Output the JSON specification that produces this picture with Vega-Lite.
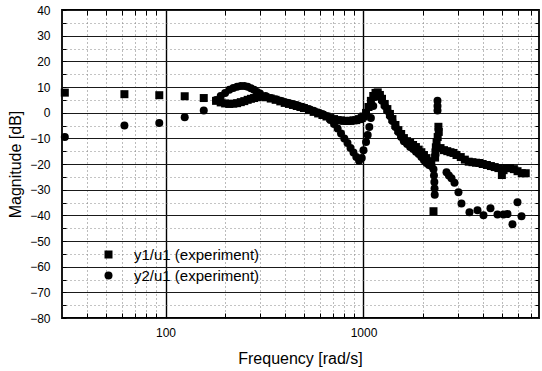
{
  "$schema": "https://vega.github.io/schema/vega-lite/v6.json",
  "width": 477,
  "height": 308,
  "autosize": "none",
  "padding": {"left": 62, "top": 10, "right": 3, "bottom": 53},
  "background": "white",
  "config": {"view": {"stroke": "black", "strokeWidth": 1.8}, "font": "Liberation Sans"},
  "data": {"values": [
    {"f": 31, "db": 7.8, "s": "y1/u1 (experiment)"},
    {"f": 62, "db": 7.2, "s": "y1/u1 (experiment)"},
    {"f": 93, "db": 6.8, "s": "y1/u1 (experiment)"},
    {"f": 125, "db": 6.4, "s": "y1/u1 (experiment)"},
    {"f": 156, "db": 5.7, "s": "y1/u1 (experiment)"},
    {"f": 180, "db": 4.6, "s": "y1/u1 (experiment)"},
    {"f": 190, "db": 4.0, "s": "y1/u1 (experiment)"},
    {"f": 200, "db": 3.6, "s": "y1/u1 (experiment)"},
    {"f": 210, "db": 3.4, "s": "y1/u1 (experiment)"},
    {"f": 220, "db": 3.5, "s": "y1/u1 (experiment)"},
    {"f": 230, "db": 3.7, "s": "y1/u1 (experiment)"},
    {"f": 240, "db": 4.1, "s": "y1/u1 (experiment)"},
    {"f": 250, "db": 4.5, "s": "y1/u1 (experiment)"},
    {"f": 260, "db": 5.0, "s": "y1/u1 (experiment)"},
    {"f": 270, "db": 5.4, "s": "y1/u1 (experiment)"},
    {"f": 280, "db": 5.7, "s": "y1/u1 (experiment)"},
    {"f": 290, "db": 6.0, "s": "y1/u1 (experiment)"},
    {"f": 300, "db": 6.2, "s": "y1/u1 (experiment)"},
    {"f": 320, "db": 6.0, "s": "y1/u1 (experiment)"},
    {"f": 340, "db": 5.5, "s": "y1/u1 (experiment)"},
    {"f": 360, "db": 5.0, "s": "y1/u1 (experiment)"},
    {"f": 380, "db": 4.4, "s": "y1/u1 (experiment)"},
    {"f": 400, "db": 3.8, "s": "y1/u1 (experiment)"},
    {"f": 420, "db": 3.4, "s": "y1/u1 (experiment)"},
    {"f": 440, "db": 3.0, "s": "y1/u1 (experiment)"},
    {"f": 460, "db": 2.6, "s": "y1/u1 (experiment)"},
    {"f": 480, "db": 2.2, "s": "y1/u1 (experiment)"},
    {"f": 500, "db": 1.8, "s": "y1/u1 (experiment)"},
    {"f": 530, "db": 1.0, "s": "y1/u1 (experiment)"},
    {"f": 560, "db": 0.3, "s": "y1/u1 (experiment)"},
    {"f": 590, "db": -0.3, "s": "y1/u1 (experiment)"},
    {"f": 620, "db": -0.9, "s": "y1/u1 (experiment)"},
    {"f": 650, "db": -1.5, "s": "y1/u1 (experiment)"},
    {"f": 680, "db": -2.1, "s": "y1/u1 (experiment)"},
    {"f": 710, "db": -2.5, "s": "y1/u1 (experiment)"},
    {"f": 740, "db": -2.9, "s": "y1/u1 (experiment)"},
    {"f": 770, "db": -3.0, "s": "y1/u1 (experiment)"},
    {"f": 800, "db": -3.2, "s": "y1/u1 (experiment)"},
    {"f": 830, "db": -3.2, "s": "y1/u1 (experiment)"},
    {"f": 860, "db": -3.2, "s": "y1/u1 (experiment)"},
    {"f": 890, "db": -3.0, "s": "y1/u1 (experiment)"},
    {"f": 920, "db": -2.9, "s": "y1/u1 (experiment)"},
    {"f": 950, "db": -2.5, "s": "y1/u1 (experiment)"},
    {"f": 980, "db": -2.1, "s": "y1/u1 (experiment)"},
    {"f": 1000, "db": -1.5, "s": "y1/u1 (experiment)"},
    {"f": 1030, "db": -0.1, "s": "y1/u1 (experiment)"},
    {"f": 1060, "db": 2.2, "s": "y1/u1 (experiment)"},
    {"f": 1090, "db": 4.6, "s": "y1/u1 (experiment)"},
    {"f": 1120, "db": 6.5, "s": "y1/u1 (experiment)"},
    {"f": 1150, "db": 7.7, "s": "y1/u1 (experiment)"},
    {"f": 1180, "db": 7.9, "s": "y1/u1 (experiment)"},
    {"f": 1210, "db": 6.9, "s": "y1/u1 (experiment)"},
    {"f": 1240, "db": 5.4, "s": "y1/u1 (experiment)"},
    {"f": 1280, "db": 3.4, "s": "y1/u1 (experiment)"},
    {"f": 1320, "db": 1.4, "s": "y1/u1 (experiment)"},
    {"f": 1360, "db": -0.5, "s": "y1/u1 (experiment)"},
    {"f": 1400, "db": -2.5, "s": "y1/u1 (experiment)"},
    {"f": 1450, "db": -4.8, "s": "y1/u1 (experiment)"},
    {"f": 1500, "db": -6.8, "s": "y1/u1 (experiment)"},
    {"f": 1550, "db": -8.3, "s": "y1/u1 (experiment)"},
    {"f": 1600, "db": -9.9, "s": "y1/u1 (experiment)"},
    {"f": 1660, "db": -11.1, "s": "y1/u1 (experiment)"},
    {"f": 1720, "db": -11.8, "s": "y1/u1 (experiment)"},
    {"f": 1780, "db": -12.6, "s": "y1/u1 (experiment)"},
    {"f": 1840, "db": -13.4, "s": "y1/u1 (experiment)"},
    {"f": 1900, "db": -14.4, "s": "y1/u1 (experiment)"},
    {"f": 1960, "db": -15.4, "s": "y1/u1 (experiment)"},
    {"f": 2020, "db": -16.5, "s": "y1/u1 (experiment)"},
    {"f": 2080, "db": -17.7, "s": "y1/u1 (experiment)"},
    {"f": 2140, "db": -18.9, "s": "y1/u1 (experiment)"},
    {"f": 2200, "db": -20.0, "s": "y1/u1 (experiment)"},
    {"f": 2257, "db": -38.4, "s": "y1/u1 (experiment)"},
    {"f": 2300, "db": -17.5, "s": "y1/u1 (experiment)"},
    {"f": 2310, "db": -15.5, "s": "y1/u1 (experiment)"},
    {"f": 2320, "db": -13.5, "s": "y1/u1 (experiment)"},
    {"f": 2340, "db": -11.5, "s": "y1/u1 (experiment)"},
    {"f": 2370, "db": -9.5, "s": "y1/u1 (experiment)"},
    {"f": 2400, "db": -7.5, "s": "y1/u1 (experiment)"},
    {"f": 2390, "db": -5.5, "s": "y1/u1 (experiment)"},
    {"f": 2450, "db": -13.8, "s": "y1/u1 (experiment)"},
    {"f": 2550, "db": -14.6, "s": "y1/u1 (experiment)"},
    {"f": 2650, "db": -15.0, "s": "y1/u1 (experiment)"},
    {"f": 2750, "db": -15.4, "s": "y1/u1 (experiment)"},
    {"f": 2850, "db": -15.7, "s": "y1/u1 (experiment)"},
    {"f": 2950, "db": -16.5, "s": "y1/u1 (experiment)"},
    {"f": 3100, "db": -17.3, "s": "y1/u1 (experiment)"},
    {"f": 3250, "db": -18.3, "s": "y1/u1 (experiment)"},
    {"f": 3400, "db": -19.1, "s": "y1/u1 (experiment)"},
    {"f": 3550, "db": -19.3, "s": "y1/u1 (experiment)"},
    {"f": 3700, "db": -19.5, "s": "y1/u1 (experiment)"},
    {"f": 3850, "db": -19.6, "s": "y1/u1 (experiment)"},
    {"f": 4000, "db": -20.0, "s": "y1/u1 (experiment)"},
    {"f": 4200, "db": -20.4, "s": "y1/u1 (experiment)"},
    {"f": 4400, "db": -20.8, "s": "y1/u1 (experiment)"},
    {"f": 4600, "db": -21.2, "s": "y1/u1 (experiment)"},
    {"f": 4800, "db": -21.6, "s": "y1/u1 (experiment)"},
    {"f": 5000, "db": -24.3, "s": "y1/u1 (experiment)"},
    {"f": 5100, "db": -22.4, "s": "y1/u1 (experiment)"},
    {"f": 5250, "db": -21.6, "s": "y1/u1 (experiment)"},
    {"f": 5500, "db": -21.6, "s": "y1/u1 (experiment)"},
    {"f": 5750, "db": -22.0, "s": "y1/u1 (experiment)"},
    {"f": 6000, "db": -22.8, "s": "y1/u1 (experiment)"},
    {"f": 6300, "db": -23.6, "s": "y1/u1 (experiment)"},
    {"f": 6600, "db": -23.6, "s": "y1/u1 (experiment)"},
    {"f": 31, "db": -9.5, "s": "y2/u1 (experiment)"},
    {"f": 62, "db": -5.0, "s": "y2/u1 (experiment)"},
    {"f": 93, "db": -4.0, "s": "y2/u1 (experiment)"},
    {"f": 125, "db": -1.8, "s": "y2/u1 (experiment)"},
    {"f": 156, "db": 0.8, "s": "y2/u1 (experiment)"},
    {"f": 180, "db": 4.9, "s": "y2/u1 (experiment)"},
    {"f": 190, "db": 6.5, "s": "y2/u1 (experiment)"},
    {"f": 200, "db": 7.7, "s": "y2/u1 (experiment)"},
    {"f": 210, "db": 8.9, "s": "y2/u1 (experiment)"},
    {"f": 220, "db": 9.6, "s": "y2/u1 (experiment)"},
    {"f": 230, "db": 10.1, "s": "y2/u1 (experiment)"},
    {"f": 240, "db": 10.4, "s": "y2/u1 (experiment)"},
    {"f": 250, "db": 10.4, "s": "y2/u1 (experiment)"},
    {"f": 260, "db": 10.1, "s": "y2/u1 (experiment)"},
    {"f": 270, "db": 9.5, "s": "y2/u1 (experiment)"},
    {"f": 280, "db": 8.9, "s": "y2/u1 (experiment)"},
    {"f": 290, "db": 8.1, "s": "y2/u1 (experiment)"},
    {"f": 300, "db": 7.5, "s": "y2/u1 (experiment)"},
    {"f": 320, "db": 6.5, "s": "y2/u1 (experiment)"},
    {"f": 340, "db": 5.7, "s": "y2/u1 (experiment)"},
    {"f": 360, "db": 5.2, "s": "y2/u1 (experiment)"},
    {"f": 380, "db": 4.6, "s": "y2/u1 (experiment)"},
    {"f": 400, "db": 4.2, "s": "y2/u1 (experiment)"},
    {"f": 420, "db": 3.8, "s": "y2/u1 (experiment)"},
    {"f": 440, "db": 3.4, "s": "y2/u1 (experiment)"},
    {"f": 460, "db": 3.0, "s": "y2/u1 (experiment)"},
    {"f": 480, "db": 2.4, "s": "y2/u1 (experiment)"},
    {"f": 500, "db": 2.0, "s": "y2/u1 (experiment)"},
    {"f": 530, "db": 1.4, "s": "y2/u1 (experiment)"},
    {"f": 560, "db": 0.7, "s": "y2/u1 (experiment)"},
    {"f": 590, "db": 0.1, "s": "y2/u1 (experiment)"},
    {"f": 620, "db": -0.5, "s": "y2/u1 (experiment)"},
    {"f": 650, "db": -1.3, "s": "y2/u1 (experiment)"},
    {"f": 680, "db": -2.9, "s": "y2/u1 (experiment)"},
    {"f": 710, "db": -4.4, "s": "y2/u1 (experiment)"},
    {"f": 740, "db": -6.2, "s": "y2/u1 (experiment)"},
    {"f": 770, "db": -8.1, "s": "y2/u1 (experiment)"},
    {"f": 800, "db": -10.1, "s": "y2/u1 (experiment)"},
    {"f": 830, "db": -11.8, "s": "y2/u1 (experiment)"},
    {"f": 860, "db": -13.8, "s": "y2/u1 (experiment)"},
    {"f": 890, "db": -15.5, "s": "y2/u1 (experiment)"},
    {"f": 920, "db": -17.3, "s": "y2/u1 (experiment)"},
    {"f": 950, "db": -18.7, "s": "y2/u1 (experiment)"},
    {"f": 980, "db": -17.7, "s": "y2/u1 (experiment)"},
    {"f": 1000, "db": -14.6, "s": "y2/u1 (experiment)"},
    {"f": 1030, "db": -11.4, "s": "y2/u1 (experiment)"},
    {"f": 1050, "db": -8.7, "s": "y2/u1 (experiment)"},
    {"f": 1070, "db": -5.6, "s": "y2/u1 (experiment)"},
    {"f": 1090, "db": -2.1, "s": "y2/u1 (experiment)"},
    {"f": 1120, "db": 2.6, "s": "y2/u1 (experiment)"},
    {"f": 1150, "db": 6.1, "s": "y2/u1 (experiment)"},
    {"f": 1180, "db": 7.7, "s": "y2/u1 (experiment)"},
    {"f": 1210, "db": 6.5, "s": "y2/u1 (experiment)"},
    {"f": 1240, "db": 4.6, "s": "y2/u1 (experiment)"},
    {"f": 1280, "db": 2.6, "s": "y2/u1 (experiment)"},
    {"f": 1320, "db": 0.7, "s": "y2/u1 (experiment)"},
    {"f": 1360, "db": -1.3, "s": "y2/u1 (experiment)"},
    {"f": 1400, "db": -3.2, "s": "y2/u1 (experiment)"},
    {"f": 1450, "db": -5.6, "s": "y2/u1 (experiment)"},
    {"f": 1500, "db": -7.5, "s": "y2/u1 (experiment)"},
    {"f": 1550, "db": -9.5, "s": "y2/u1 (experiment)"},
    {"f": 1600, "db": -11.1, "s": "y2/u1 (experiment)"},
    {"f": 1660, "db": -12.2, "s": "y2/u1 (experiment)"},
    {"f": 1720, "db": -13.4, "s": "y2/u1 (experiment)"},
    {"f": 1780, "db": -14.2, "s": "y2/u1 (experiment)"},
    {"f": 1840, "db": -15.2, "s": "y2/u1 (experiment)"},
    {"f": 1900, "db": -16.1, "s": "y2/u1 (experiment)"},
    {"f": 1960, "db": -17.3, "s": "y2/u1 (experiment)"},
    {"f": 2020, "db": -18.5, "s": "y2/u1 (experiment)"},
    {"f": 2080, "db": -19.6, "s": "y2/u1 (experiment)"},
    {"f": 2140, "db": -20.4, "s": "y2/u1 (experiment)"},
    {"f": 2200, "db": -20.8, "s": "y2/u1 (experiment)"},
    {"f": 2257, "db": -22.0, "s": "y2/u1 (experiment)"},
    {"f": 2270, "db": -24.5, "s": "y2/u1 (experiment)"},
    {"f": 2280, "db": -27.0, "s": "y2/u1 (experiment)"},
    {"f": 2285, "db": -29.5, "s": "y2/u1 (experiment)"},
    {"f": 2290, "db": -32.0, "s": "y2/u1 (experiment)"},
    {"f": 2365, "db": 4.6, "s": "y2/u1 (experiment)"},
    {"f": 2365, "db": 2.6, "s": "y2/u1 (experiment)"},
    {"f": 2365, "db": 0.8, "s": "y2/u1 (experiment)"},
    {"f": 2626, "db": -23.2, "s": "y2/u1 (experiment)"},
    {"f": 2700, "db": -24.5, "s": "y2/u1 (experiment)"},
    {"f": 2782, "db": -25.6, "s": "y2/u1 (experiment)"},
    {"f": 2881, "db": -27.3, "s": "y2/u1 (experiment)"},
    {"f": 3018, "db": -31.0, "s": "y2/u1 (experiment)"},
    {"f": 3125, "db": -35.4, "s": "y2/u1 (experiment)"},
    {"f": 3430, "db": -38.8, "s": "y2/u1 (experiment)"},
    {"f": 3765, "db": -38.0, "s": "y2/u1 (experiment)"},
    {"f": 4037, "db": -40.0, "s": "y2/u1 (experiment)"},
    {"f": 4379, "db": -37.2, "s": "y2/u1 (experiment)"},
    {"f": 4751, "db": -39.7, "s": "y2/u1 (experiment)"},
    {"f": 5094, "db": -39.7, "s": "y2/u1 (experiment)"},
    {"f": 5337, "db": -39.5, "s": "y2/u1 (experiment)"},
    {"f": 5655, "db": -43.5, "s": "y2/u1 (experiment)"},
    {"f": 5995, "db": -34.9, "s": "y2/u1 (experiment)"},
    {"f": 6281, "db": -40.4, "s": "y2/u1 (experiment)"}
  ]},
  "layer": [
    {
      "mark": {"type": "point", "filled": true, "color": "black", "opacity": 1, "size": 64},
      "encoding": {
        "x": {
          "field": "f", "type": "quantitative",
          "scale": {"type": "log", "domain": [30, 7700], "nice": false},
          "axis": {
            "orient": "bottom",
            "values": [40, 50, 60, 70, 80, 90, 100, 200, 300, 400, 500, 600, 700, 800, 900, 1000, 2000, 3000, 4000, 5000, 6000, 7000],
            "labelExpr": "datum.value == 100 ? '100' : (datum.value == 1000 ? '1000' : '')",
            "title": "Frequency [rad/s]",
            "titleFontSize": 16, "titleFontWeight": "normal", "titleColor": "#000",
            "titleBaseline": "middle", "titleX": 238, "titleY": 40,
            "labelFontSize": 12, "labelColor": "#000", "labelPadding": 14, "labelFlush": false,
            "domain": false,
            "tickSize": -5, "tickColor": "black", "tickWidth": 1,
            "grid": true,
            "gridColor": {"condition": {"test": "datum.value == 100 || datum.value == 1000", "value": "#000000"}, "value": "#777777"},
            "gridDash": {"condition": {"test": "datum.value == 100 || datum.value == 1000", "value": []}, "value": [1, 3]},
            "gridWidth": {"condition": {"test": "datum.value == 100 || datum.value == 1000", "value": 1.4}, "value": 1},
            "gridOpacity": 1
          }
        },
        "y": {
          "field": "db", "type": "quantitative",
          "scale": {"domain": [-80, 40], "nice": false},
          "axis": {
            "orient": "left",
            "values": [-80, -75, -70, -65, -60, -55, -50, -45, -40, -35, -30, -25, -20, -15, -10, -5, 0, 5, 10, 15, 20, 25, 30, 35, 40],
            "labelExpr": "datum.value % 10 == 0 ? datum.label : ''",
            "title": "Magnitude [dB]",
            "titleFontSize": 16, "titleFontWeight": "normal", "titleColor": "#000",
            "titleBaseline": "middle", "titleX": -47, "titleY": 154,
            "labelFontSize": 12, "labelColor": "#000", "labelPadding": 16, "labelFlush": false,
            "domain": false,
            "tickSize": -4, "tickColor": "black", "tickWidth": 1,
            "grid": true,
            "gridColor": {"condition": {"test": "datum.value % 10 != 0", "value": "#888888"}, "value": "#1a1a1a"},
            "gridDash": {"condition": {"test": "datum.value % 10 != 0", "value": [1, 3]}, "value": []},
            "gridWidth": {"condition": {"test": "datum.value % 10 != 0", "value": 1}, "value": 1.2},
            "gridOpacity": 1
          }
        },
        "shape": {
          "field": "s", "type": "nominal",
          "scale": {"domain": ["y1/u1 (experiment)", "y2/u1 (experiment)"], "range": ["square", "circle"]},
          "legend": {
            "orient": "none", "legendX": 39, "legendY": 237, "title": null,
            "labelFontSize": 15, "labelColor": "#000", "labelOffset": 18,
            "symbolFillColor": "black", "symbolStrokeColor": "black", "symbolSize": 64,
            "rowPadding": 5, "padding": 0, "symbolOffset": 0
          }
        }
      }
    },
    {
      "mark": {"type": "point", "opacity": 0},
      "encoding": {
        "x": {
          "field": "f", "type": "quantitative",
          "axis": {
            "orient": "top", "title": null, "labels": false, "domain": false, "grid": false,
            "values": [40, 50, 60, 70, 80, 90, 200, 300, 400, 500, 600, 700, 800, 900, 2000, 3000, 4000, 5000, 6000, 7000],
            "tickSize": -5, "tickColor": "black", "tickWidth": 1
          }
        },
        "y": {
          "field": "db", "type": "quantitative",
          "axis": {
            "orient": "right", "title": null, "labels": false, "domain": false, "grid": false,
            "values": [-75, -70, -65, -60, -55, -50, -45, -40, -35, -30, -25, -20, -15, -10, -5, 0, 5, 10, 15, 20, 25, 30, 35],
            "tickSize": -4, "tickColor": "black", "tickWidth": 1
          }
        }
      }
    }
  ],
  "resolve": {"axis": {"x": "independent", "y": "independent"}}
}
